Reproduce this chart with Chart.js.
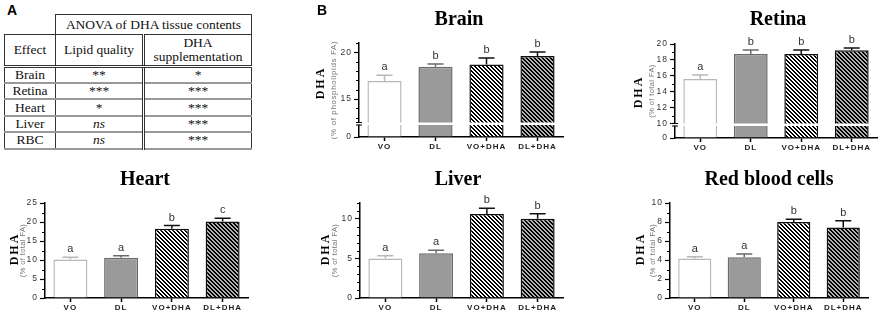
<!DOCTYPE html>
<html><head><meta charset="utf-8">
<script src="https://cdn.jsdelivr.net/npm/chart.js@4.4.1/dist/chart.umd.min.js"></script>
<style>
body{margin:0;width:886px;height:316px;background:#fff;position:relative;overflow:hidden;font-family:"Liberation Sans",Arial,sans-serif}
canvas{position:absolute}
.plab{position:absolute;font:bold 14px "Liberation Sans",Arial,sans-serif;color:#000;z-index:5}
#anova{position:absolute;left:4px;top:14px;width:247px;table-layout:fixed;border-collapse:collapse;font:13.5px "Liberation Serif","Times New Roman",serif;color:#111}
#anova td{border:1px solid #333;text-align:center;padding:0;line-height:14px;overflow:hidden;white-space:nowrap}
#anova td.c3{border-left:3px double #333}
#anova tr.hdr td{border-bottom:3px double #333}
#anova tr.row td{border-top:2px solid #999;border-bottom:2px solid #999}
</style></head>
<body>
<table id="anova"><colgroup><col style="width:51px"><col style="width:88px"><col style="width:108px"></colgroup><tbody id="tb"></tbody></table>
<canvas id="brain" width="290" height="158" style="left:280px;top:0px"></canvas>
<canvas id="retina" width="296" height="158" style="left:590px;top:0px"></canvas>
<canvas id="heart" width="290" height="158" style="left:0px;top:158px"></canvas>
<canvas id="liver" width="296" height="158" style="left:290px;top:158px"></canvas>
<canvas id="rbc" width="296" height="158" style="left:590px;top:158px"></canvas>
<div class="plab" style="left:7px;top:2px">A</div>
<div class="plab" style="left:317px;top:2px">B</div>
<script>
// ---------- data ----------
const groups = ['VO', 'DL', 'VO+DHA', 'DL+DHA'];

const tissues = ['Brain', 'Retina', 'Heart', 'Liver', 'RBC'];
const lipidQuality = ['**', '***', '*', 'ns', 'ns'];
const dhaSupplementation = ['*', '***', '***', '***', '***'];

const brainMean = [16.95, 18.45, 18.7, 19.6];
const brainSem = [0.6, 0.3, 0.7, 0.45];
const brainLetters = ['a', 'b', 'b', 'b'];
const brainTicks = [0, 15, 20];
const brainMinor = [13, 14, 16, 17, 18, 19, 21];

const retinaMean = [15.6, 18.75, 18.75, 19.2];
const retinaSem = [0.5, 0.5, 0.5, 0.3];
const retinaLetters = ['a', 'b', 'b', 'b'];
const retinaTicks = [0, 10, 12, 14, 16, 18, 20];
const retinaMinor = [11, 13, 15, 17, 19];

const heartMean = [10.15, 10.6, 18.2, 20.1];
const heartSem = [0.6, 0.5, 0.85, 0.9];
const heartLetters = ['a', 'a', 'b', 'c'];
const heartTicks = [0, 5, 10, 15, 20, 25];
const heartMinor = [2.5, 7.5, 12.5, 17.5, 22.5];

const liverMean = [5.0, 5.65, 10.6, 10.0];
const liverSem = [0.35, 0.37, 0.75, 0.65];
const liverLetters = ['a', 'a', 'b', 'b'];
const liverTicks = [0, 5, 10];
const liverMinor = [1, 2, 3, 4, 6, 7, 8, 9, 11, 12];

const rbcMean = [4.17, 4.3, 8.0, 7.42];
const rbcSem = [0.18, 0.33, 0.3, 0.7];
const rbcLetters = ['a', 'a', 'b', 'b'];
const rbcTicks = [0, 2, 4, 6, 8, 10];
const rbcMinor = [1, 3, 5, 7, 9];

// ---------- table ----------
(function(){
  const tb = document.getElementById('tb');
  let h = '<tr style="height:20px"><td style="border:none"></td><td colspan="2">ANOVA of DHA tissue contents</td></tr>';
  h += '<tr class="hdr" style="height:32px"><td>Effect</td><td>Lipid quality</td><td class="c3">DHA<br>supplementation</td></tr>';
  tissues.forEach((t, i) => {
    const lq = lipidQuality[i] === 'ns' ? '<i>ns</i>' : lipidQuality[i];
    const ds = dhaSupplementation[i] === 'ns' ? '<i>ns</i>' : dhaSupplementation[i];
    h += '<tr class="row" style="height:16.4px"><td>' + t + '</td><td>' + lq + '</td><td class="c3">' + ds + '</td></tr>';
  });
  tb.innerHTML = h;
})();

// ---------- broken axis scale ----------
const BREAKS = {};
class BrokenLinearScale extends Chart.LinearScale {
  getPixelForValue(value) {
    const b = BREAKS[this.chart.canvas.id];
    if (!b) return super.getPixelForValue(value);
    const bottom = this.bottom, top = this.top, up = bottom - b.lowerPx - b.gapPx;
    if (value <= b.low) return bottom - (value - this.min) / (b.low - this.min) * b.lowerPx;
    if (value >= b.high) return up - (value - b.high) / (this.max - b.high) * (up - top);
    return up + b.gapPx / 2;
  }
  getValueForPixel(pixel) {
    const b = BREAKS[this.chart.canvas.id];
    if (!b) return super.getValueForPixel(pixel);
    const bottom = this.bottom, top = this.top, up = bottom - b.lowerPx - b.gapPx;
    if (pixel >= bottom - b.lowerPx) return this.min + (bottom - pixel) / b.lowerPx * (b.low - this.min);
    if (pixel <= up) return b.high + (up - pixel) / (up - top) * (this.max - b.high);
    return (b.low + b.high) / 2;
  }
}
BrokenLinearScale.id = 'brokenLinear';
BrokenLinearScale.defaults = Chart.LinearScale.defaults;
Chart.register(BrokenLinearScale);

// ---------- styles ----------
function stripes(bg) {
  const s = 4, w = 2, c = document.createElement('canvas');
  c.width = s; c.height = s;
  const x = c.getContext('2d');
  x.fillStyle = bg; x.fillRect(0, 0, s, s);
  x.fillStyle = '#000';
  for (let yy = 0; yy < s; yy++) for (let j = 0; j < w; j++) x.fillRect((yy + j) % s, yy, 1, 1);
  return x.createPattern(c, 'repeat');
}
const fills = ['#ffffff', '#9a9a9a', stripes('#ffffff'), stripes('#b0b0b0')];
const borders = ['#b8b8b8', '#6a6a6a', '#111111', '#111111'];

const panels = [
  {id:'brain', title:'Brain', box:[280,0], area:[359,43,563,137], max:21, major:brainTicks, minor:brainMinor,
   mean:brainMean, sem:brainSem, letters:brainLetters, unit:'(% of phospholipids FA)', unitSize:8, unitSp:0.6,
   brk:{low:1, high:12.5, lowerPx:12, gapPx:2.5}, titleX:459, titleY:25, dhaX:321, dhaY:84, subX:333.5},
  {id:'retina', title:'Retina', box:[590,0], area:[675,44,877,138], max:20, major:retinaTicks, minor:retinaMinor,
   mean:retinaMean, sem:retinaSem, letters:retinaLetters, unit:'(% of total FA)', unitSize:7.5, unitSp:0.4,
   brk:{low:1, high:10, lowerPx:12, gapPx:2.5}, titleX:778, titleY:25, dhaX:638.5, dhaY:93, subX:652},
  {id:'heart', title:'Heart', box:[0,158], area:[45,203,248,298], max:25, major:heartTicks, minor:heartMinor,
   mean:heartMean, sem:heartSem, letters:heartLetters, unit:'(% of total FA)', unitSize:7.5, unitSp:0.4,
   brk:null, titleX:145, titleY:185, dhaX:14.5, dhaY:250, subX:22.5},
  {id:'liver', title:'Liver', box:[290,158], area:[360,203,563,298], max:12, major:liverTicks, minor:liverMinor,
   mean:liverMean, sem:liverSem, letters:liverLetters, unit:'(% of total FA)', unitSize:7.5, unitSp:0.4,
   brk:null, titleX:458, titleY:185, dhaX:325.5, dhaY:250, subX:335},
  {id:'rbc', title:'Red blood cells', box:[590,158], area:[670,203,868,298], max:10, major:rbcTicks, minor:rbcMinor,
   mean:rbcMean, sem:rbcSem, letters:rbcLetters, unit:'(% of total FA)', unitSize:7.5, unitSp:0.4,
   brk:null, titleX:769, titleY:185, dhaX:641, dhaY:250, subX:653.3}
];

function makeChart(p) {
  const cv = document.getElementById(p.id);
  const W = cv.width, H = cv.height;
  const ox = p.box[0], oy = p.box[1];
  const yW = p.area[0] - ox, padR = ox + W - p.area[2], padT = p.area[1] - oy, xH = oy + H - p.area[3];
  if (p.brk) BREAKS[p.id] = p.brk;

  const deco = {
    id: 'deco_' + p.id,
    beforeDraw(chart) { chart.ctx.letterSpacing = '1px'; },
    afterDatasetsDraw(chart) {
      const ctx = chart.ctx, ca = chart.chartArea, b = p.brk;
      if (b) {
        const up = ca.bottom - b.lowerPx - b.gapPx;
        ctx.save();
        ctx.fillStyle = '#fff';
        ctx.fillRect(ca.left + 1, up, ca.right - ca.left, b.gapPx);
        ctx.restore();
      }
    },
    afterDraw(chart) {
      const ctx = chart.ctx, ca = chart.chartArea, ys = chart.scales.y;
      ctx.save();
      if (p.brk) {
        const b = p.brk, up = ca.bottom - b.lowerPx - b.gapPx;
        ctx.fillStyle = '#fff';
        ctx.fillRect(ca.left - 4, up + 0.3, 8, b.gapPx - 0.6);
        ctx.strokeStyle = '#000'; ctx.lineWidth = 1.2;
        ctx.beginPath();
        ctx.moveTo(ca.left - 3, up); ctx.lineTo(ca.left + 3, up);
        ctx.moveTo(ca.left - 3, up + b.gapPx); ctx.lineTo(ca.left + 3, up + b.gapPx);
        ctx.stroke();
      }
      ctx.strokeStyle = '#000'; ctx.lineWidth = 1;
      ctx.beginPath();
      p.minor.forEach(v => {
        const y = Math.round(ys.getPixelForValue(v)) + 0.5;
        ctx.moveTo(ca.left - 3, y); ctx.lineTo(ca.left, y);
      });
      ctx.stroke();
      const meta = chart.getDatasetMeta(0);
      meta.data.forEach((bar, i) => {
        const x = bar.x;
        const yTop = ys.getPixelForValue(p.mean[i]);
        const yErr = ys.getPixelForValue(p.mean[i] + p.sem[i]);
        ctx.strokeStyle = borders[i]; ctx.lineWidth = 1.5;
        ctx.beginPath();
        ctx.moveTo(x, yTop); ctx.lineTo(x, yErr);
        ctx.moveTo(x - 8, yErr); ctx.lineTo(x + 8, yErr);
        ctx.stroke();
        ctx.letterSpacing = '0px';
        ctx.fillStyle = '#333';
        ctx.font = '11px "Liberation Sans", Arial, sans-serif';
        ctx.textAlign = 'center'; ctx.textBaseline = 'alphabetic';
        ctx.fillText(p.letters[i], x, yErr - 5);
      });
      ctx.letterSpacing = '0px';
      ctx.fillStyle = '#000';
      ctx.font = 'bold 20px "Liberation Serif", "Times New Roman", serif';
      ctx.textAlign = 'center'; ctx.textBaseline = 'alphabetic';
      ctx.fillText(p.title, p.titleX - ox, p.titleY - oy);
      ctx.save();
      ctx.translate(p.dhaX - ox, p.dhaY - oy);
      ctx.rotate(-Math.PI / 2);
      ctx.letterSpacing = '2px';
      ctx.font = 'bold 12px "Liberation Serif", "Times New Roman", serif';
      ctx.textAlign = 'center'; ctx.textBaseline = 'middle';
      ctx.fillText('DHA', 1, 0);
      ctx.restore();
      ctx.save();
      ctx.translate(p.subX - ox, (ca.top + ca.bottom) / 2);
      ctx.rotate(-Math.PI / 2);
      ctx.letterSpacing = p.unitSp + 'px';
      ctx.fillStyle = '#777';
      ctx.font = p.unitSize + 'px "Liberation Sans", Arial, sans-serif';
      ctx.textAlign = 'center'; ctx.textBaseline = 'middle';
      ctx.fillText(p.unit, 0, 0);
      ctx.restore();
      ctx.restore();
    }
  };

  return new Chart(cv, {
    type: 'bar',
    data: {
      labels: groups,
      datasets: [{
        data: p.mean,
        backgroundColor: fills,
        borderColor: borders,
        borderWidth: 1.5,
        borderSkipped: 'start',
        barPercentage: 0.67,
        categoryPercentage: 1.0
      }]
    },
    options: {
      responsive: false,
      animation: false,
      devicePixelRatio: 1,
      layout: { padding: { left: 0, right: padR, top: padT, bottom: 0 } },
      plugins: { legend: { display: false }, tooltip: { enabled: false }, title: { display: false } },
      scales: {
        x: {
          type: 'category',
          grid: { display: true, drawOnChartArea: false, offset: false, tickLength: 4, tickColor: '#000', tickWidth: 1.5 },
          border: { color: '#000', width: 1.5 },
          ticks: { font: { family: '"Liberation Sans", Arial, sans-serif', size: 8, weight: 'bold' }, color: '#222', padding: 1, maxRotation: 0, autoSkip: false },
          afterFit: s => { s.height = xH; }
        },
        y: {
          type: p.brk ? 'brokenLinear' : 'linear',
          min: 0, max: p.max,
          afterBuildTicks: s => { s.ticks = p.major.map(v => ({ value: v })); },
          grid: { display: true, drawOnChartArea: false, tickLength: 5, tickColor: '#000', tickWidth: 1.2 },
          border: { color: '#000', width: 1.5 },
          ticks: { font: { family: '"Liberation Sans", Arial, sans-serif', size: 8.5 }, color: '#333', padding: 2 },
          afterFit: s => { s.width = yW; }
        }
      }
    },
    plugins: [deco]
  });
}
panels.forEach(makeChart);
</script>
</body></html>
